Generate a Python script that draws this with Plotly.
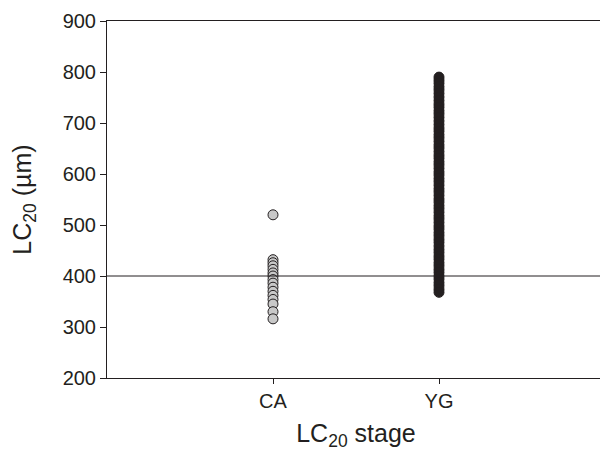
import plotly.graph_objects as go

categories = ["CA", "YG"]
ca_values = [520, 432, 426, 420, 413, 406, 400, 393, 386, 378, 370, 362, 354, 345, 330, 316]
yg_values = [790, 784, 778, 771, 765, 758, 751, 744, 737, 731, 724, 718, 711, 704, 697, 690,
             684, 677, 671, 664, 657, 651, 644, 637, 631, 624, 618, 611, 604, 598, 591, 585,
             578, 571, 565, 558, 551, 545, 538, 532, 525, 518, 512, 505, 498, 492, 485, 479,
             472, 466, 459, 452, 446, 439, 433, 426, 420, 413, 407, 400, 394, 387, 381, 374, 368]
y_ticks = [200, 300, 400, 500, 600, 700, 800, 900]
threshold = 400

fig = go.Figure()
fig.add_trace(go.Scatter(
    x=[categories[0]] * len(ca_values), y=ca_values, mode="markers",
    marker=dict(size=10, color="#c8c8c8", line=dict(color="#231f20", width=1)),
    showlegend=False))
fig.add_trace(go.Scatter(
    x=[categories[1]] * len(yg_values), y=yg_values, mode="markers",
    marker=dict(size=10, color="#231f20", line=dict(color="#231f20", width=1)),
    showlegend=False))

fig.add_hline(y=threshold, line=dict(color="#231f20", width=1))

font_family = "Liberation Sans, Arial, sans-serif"
fig.update_layout(
    width=600, height=443,
    margin=dict(l=99, r=2, t=10, b=73),
    plot_bgcolor="white", paper_bgcolor="white",
    font=dict(family=font_family, color="#231f20", size=19),
    xaxis=dict(
        type="category", categoryorder="array", categoryarray=categories,
        range=[-1, 2], showgrid=False, zeroline=False,
        showline=True, linecolor="#231f20", linewidth=1, mirror=True,
        ticks="outside", ticklen=5, tickcolor="#231f20",
        tickfont=dict(size=20),
        title=dict(text="LC<sub>20</sub> stage", font=dict(size=25), standoff=17),
    ),
    yaxis=dict(
        range=[200, 900], tickvals=y_ticks, showgrid=False, zeroline=False,
        showline=True, linecolor="#231f20", linewidth=1, mirror=True,
        ticks="outside", ticklen=6, tickcolor="#231f20",
        tickfont=dict(size=20), ticklabeloverflow="allow",
        title=dict(text="LC<sub>20</sub> (µm)", font=dict(size=25), standoff=24),
    ),
)

fig.write_html("out.html")
